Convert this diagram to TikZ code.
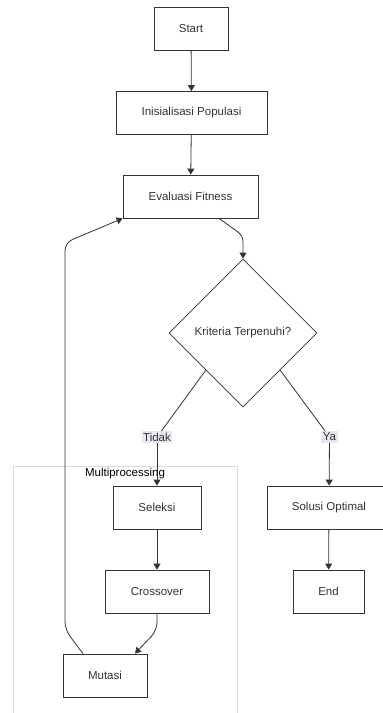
\documentclass[tikz,border=0pt]{standalone}
\usepackage{fontspec}
\setmainfont{Liberation Sans}
\usetikzlibrary{arrows.meta, shapes.geometric}
\definecolor{txtgray}{HTML}{333333}
\definecolor{linegray}{HTML}{333333}
\definecolor{clustergray}{HTML}{DDDDDD}
\definecolor{labelbg}{HTML}{E8E8F2}

\begin{document}
\begin{tikzpicture}[x=1pt, y=-1pt, font=\fontsize{11.5}{13}\selectfont,
    box/.style={draw=linegray, fill=white, text=txtgray, line width=0.8pt, minimum height=43pt, inner sep=0pt},
    decision/.style={diamond, draw=linegray, fill=white, text=txtgray, line width=0.8pt, minimum width=148pt, minimum height=148pt, inner sep=0pt},
    edgelabel/.style={fill=labelbg, text=txtgray, inner sep=1.5pt},
    flow/.style={draw=linegray, line width=0.8pt, -{Triangle[length=6pt, width=7pt]}},
    link/.style={draw=linegray, line width=0.8pt}]
            \useasboundingbox (0,0) rectangle (383,713);
            \clip (0,0) rectangle (383,713);

            % cluster
            \draw[clustergray, line width=0.6pt] (13,466) rectangle (237,720);

            \node[box, minimum width=74pt] (start) at (191,28.5) {Start};
            \node[box, minimum width=151pt] (init) at (191.5,113) {Inisialisasi Populasi};
            \node[box, minimum width=135pt] (eval) at (190.5,196.5) {Evaluasi Fitness};
            \node[decision] (crit) at (243,333) {Kriteria Terpenuhi?};
            \node[edgelabel] (tidak) at (157,437) {Tidak};
            \node[edgelabel] (ya) at (329.5,437) {Ya};
            \node[box, minimum width=88pt] (seleksi) at (157,507.5) {Seleksi};
            \node[box, minimum width=104pt] (cross) at (157,591.5) {Crossover};
            \node[box, minimum width=84pt] (mutasi) at (105,675.5) {Mutasi};
            \node[box, minimum width=124pt] (solusi) at (329,507.5) {Solusi Optimal};
            \node[box, minimum width=71pt] (end) at (328.5,591.5) {End};

            \draw[flow] (start) -- (init);
            \draw[flow] (init) -- (eval);
            \draw[flow, rounded corners=6pt] ([xshift=28.5pt]eval.south) -- ([yshift=23pt]crit.north) -- (crit.north);
            \draw[link] (crit.south west) -- (tidak);
            \draw[flow] (tidak) -- (seleksi);
            \draw[link] (crit.south east) -- (ya);
            \draw[flow] (ya) -- (solusi);
            \draw[flow] (seleksi) -- (cross);
            \draw[flow] (solusi) -- (end);
            \draw[flow, rounded corners=8pt] (cross.south) -- ++(0,17) -- ([xshift=30pt]mutasi.north);
            \draw[flow, rounded corners=8pt] ([xshift=-22pt]mutasi.north) -- ++(-18,-24) -- ++(0,-387) -- (eval.south west);

            \node (mplabel) at (125,474) {Multiprocessing};
        \end{tikzpicture}
\end{document}
